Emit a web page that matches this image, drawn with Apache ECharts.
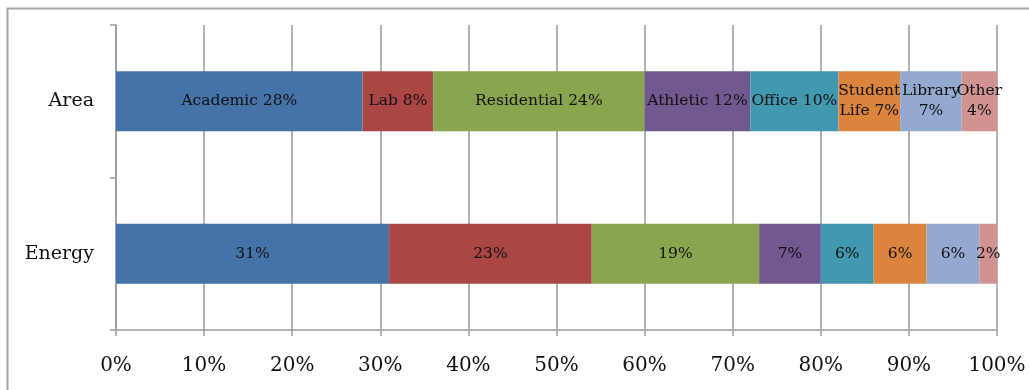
<!DOCTYPE html>
<html>
<head>
<meta charset="utf-8">
<style>
  html, body { margin: 0; padding: 0; background: #fff; }
  #chart { width: 1029px; height: 390px; }
</style>
<script src="https://cdn.jsdelivr.net/npm/echarts@6/dist/echarts.min.js"></script>
</head>
<body>
<div id="chart"></div>
<script>
// Share of campus floor area and energy use by building type (percent)
const categories = ['Energy', 'Area'];
const seriesNames = ['Academic', 'Lab', 'Residential', 'Athletic', 'Office', 'Student Life', 'Library', 'Other'];
const areaValues = [28, 8, 24, 12, 10, 7, 7, 4];
const energyValues = [31, 23, 19, 7, 6, 6, 6, 2];
const xTicks = [0, 10, 20, 30, 40, 50, 60, 70, 80, 90, 100];
const colors = ['#4572A7', '#AA4643', '#89A54E', '#71588F', '#4198AF', '#DB843D', '#93A9CF', '#D19392'];

const serif = '"DejaVu Serif", "Liberation Serif", serif';
const gridColor = '#9a9a9a';

const chart = echarts.init(document.getElementById('chart'), null, { renderer: 'canvas' });

const series = seriesNames.map((name, i) => ({
  name: name,
  type: 'bar',
  stack: 'total',
  barWidth: 60,
  itemStyle: { color: colors[i] },
  label: {
    show: true,
    position: 'inside',
    fontFamily: serif,
    fontSize: 15.5,
    color: '#111',
    lineHeight: 20,
    formatter: (p) => {
      if (p.name === 'Area') {
        let text = name + ' ' + p.value + '%';
        // narrow segments carry their label on two lines
        if (p.value < 8) text = text.replace(' ', '\n');
        return text;
      }
      return p.value + '%';
    }
  },
  data: [energyValues[i], areaValues[i]]
}));

chart.setOption({
  animation: false,
  color: colors,
  graphic: [{
    type: 'rect',
    shape: { x: 7.5, y: 8.5, width: 1200, height: 600 },
    style: { fill: 'none', stroke: '#a6a6a6', lineWidth: 2 },
    silent: true,
    z: -10
  }],
  grid: { left: 116, right: 32, top: 25, bottom: 60 },
  xAxis: {
    type: 'value',
    min: xTicks[0],
    max: xTicks[xTicks.length - 1],
    interval: 10,
    axisLine: { show: true, lineStyle: { color: gridColor, width: 1.5 } },
    axisTick: { show: true, inside: false, length: 6, lineStyle: { color: gridColor, width: 1.5 } },
    splitLine: { show: true, lineStyle: { color: gridColor, width: 1.5 } },
    axisLabel: {
      formatter: '{value}%',
      fontFamily: serif,
      fontSize: 20,
      color: '#111',
      margin: 26
    }
  },
  yAxis: {
    type: 'category',
    data: categories,
    axisLine: { show: true, lineStyle: { color: gridColor, width: 1.5 } },
    axisTick: { show: true, alignWithLabel: false, length: 6, lineStyle: { color: gridColor, width: 1.5 } },
    axisLabel: {
      fontFamily: serif,
      fontSize: 19,
      color: '#111',
      margin: 22
    }
  },
  series: series
});
</script>
</body>
</html>
